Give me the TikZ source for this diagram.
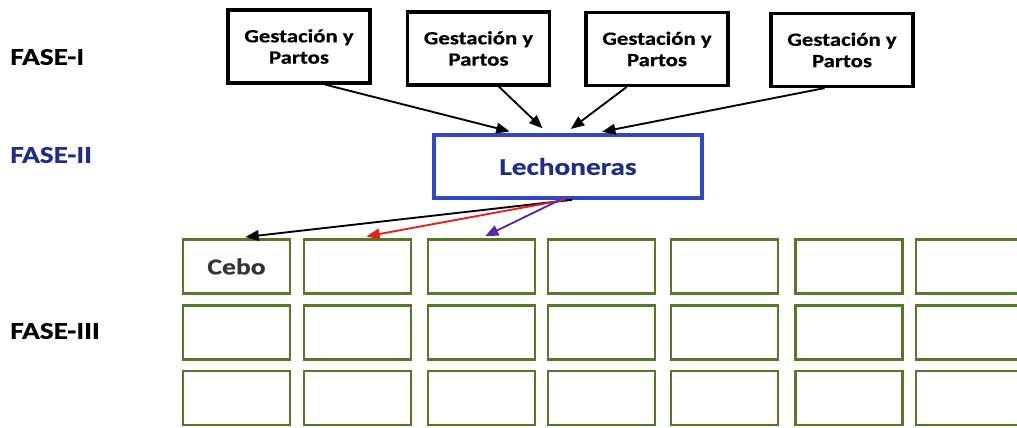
\documentclass[tikz,border=0pt]{standalone}
\usepackage{fontspec}
\setmainfont{Carlito}[FakeStretch=1.22,FakeBold=0.6]
\usetikzlibrary{arrows.meta,calc}
\definecolor{cellgreen}{RGB}{84,122,40}
\definecolor{lechblue}{RGB}{48,72,200}
\definecolor{textblue}{RGB}{30,45,140}
\definecolor{arrred}{RGB}{235,30,30}
\definecolor{arrpurple}{RGB}{90,40,170}
\begin{document}
\begin{tikzpicture}[x=0.75pt,y=-0.75pt,
  gbox/.style={draw=black,line width=2.4pt,minimum width=142*0.75pt,minimum height=73*0.75pt,
    align=center,font=\bfseries\fontsize{14}{16}\selectfont,inner sep=0pt},
  lbox/.style={draw=lechblue,line width=2.8pt,minimum width=268*0.75pt,minimum height=63*0.75pt,
    font=\bfseries\fontsize{18}{20}\selectfont,text=textblue,inner sep=0pt},
  cell/.style={draw=cellgreen,line width=2.2pt,minimum width=107*0.75pt,minimum height=54*0.75pt,
    inner sep=0pt},
  fase/.style={anchor=west,font=\bfseries\fontsize{18}{20}\selectfont,inner sep=0pt},
  arr/.style={line width=1.4pt,-{Triangle[length=10pt,width=8pt]}}]
\useasboundingbox (0,0) rectangle (1017,428);
\clip (0,0) rectangle (1017,428);
% phase labels
\node[fase] (f1) at (10,57) {FASE-I};
\node[fase,text=textblue] (f2) at (10,155) {FASE-II};
\node[fase] (f3) at (10,331) {FASE-III};
% top boxes
\node[gbox] (g1) at (299,46.5) {Gestación y\\Partos};
\node[gbox] (g2) at (478.5,48.5) {Gestación y\\Partos};
\node[gbox] (g3) at (657,49) {Gestación y\\Partos};
\node[gbox] (g4) at (842,50) {Gestación y\\Partos};
% Lechoneras
\node[lbox] (lech) at (568,166.5) {Lechoneras};
% grid
\foreach \c/\x in {1/236.5,2/357.5,3/481.5,4/601.5,5/724.5,6/849,7/969.5}{
  \foreach \r/\y in {1/266.5,2/332.5,3/398}{
    \node[cell] (c\r\c) at (\x,\y) {};
  }
}
\node[font=\bfseries\fontsize{17}{20}\selectfont,text=black!80] (cebo) at (c11) {Cebo};
% arrows from gestation boxes
\draw[arr,shorten >=7*0.75pt] ($(g1.south west)!0.68!(g1.south east)$) -- ($(lech.north west)!0.31!(lech.north east)$);
\draw[arr,shorten >=7*0.75pt] ($(g2.south west)!0.64!(g2.south east)$) -- ($(lech.north west)!0.425!(lech.north east)$);
\draw[arr,shorten >=7*0.75pt] ($(g3.south west)!0.29!(g3.south east)$) -- ($(lech.north west)!0.49!(lech.north east)$);
\draw[arr,shorten >=7*0.75pt] ($(g4.south west)!0.38!(g4.south east)$) -- ($(lech.north west)!0.6!(lech.north east)$);
% arrows to fattening
\draw[arr,shorten >=9*0.75pt] ($(lech.south)+(4,0)$) -- (c11.north);
\draw[arr,arrred,shorten >=9*0.75pt] ($(lech.south)+(-3,0)$) -- (c12.north);
\draw[arr,arrpurple,shorten >=4*0.75pt] ($(lech.south)+(-8,0)$) -- (c13.north);
\end{tikzpicture}
\end{document}
